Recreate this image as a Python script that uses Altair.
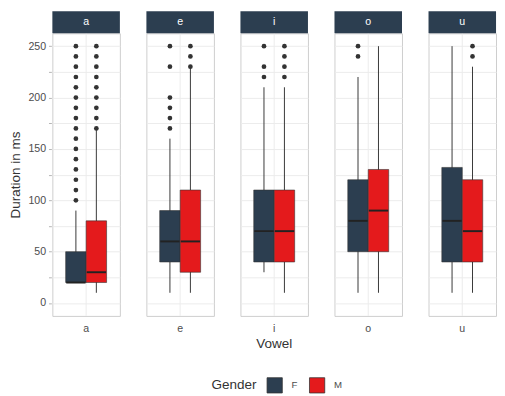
import altair as alt
import pandas as pd

vowels = ["a", "e", "i", "o", "u"]
genders = ["F", "M"]

# box stats per (vowel, gender), in order a-F, a-M, e-F, e-M, ...
lower = [20, 10, 10, 10, 30, 10, 10, 10, 10, 10]
q1 = [20, 20, 40, 30, 40, 40, 50, 50, 40, 40]
median = [20, 30, 60, 60, 70, 70, 80, 90, 80, 70]
q3 = [50, 80, 90, 110, 110, 110, 120, 130, 132, 120]
upper = [90, 170, 160, 230, 210, 210, 220, 250, 250, 230]
outliers = [
    [100, 110, 120, 130, 140, 150, 160, 170, 180, 190, 200, 210, 220, 230, 240, 250],
    [170, 180, 190, 200, 210, 220, 230, 240, 250],
    [170, 180, 190, 200, 230, 250],
    [230, 240, 250],
    [220, 230, 250],
    [220, 230, 240, 250],
    [240, 250],
    [],
    [],
    [240, 250],
]

rows = []
i = 0
for v in vowels:
    rows.append({"kind": "strip", "vowel": v})
    for g in genders:
        rows.append({"kind": "box", "vowel": v, "gender": g, "lower": lower[i],
                     "q1": q1[i], "median": median[i], "q3": q3[i], "upper": upper[i]})
        for o in outliers[i]:
            rows.append({"kind": "out", "vowel": v, "gender": g, "value": o})
        i += 1
df = pd.DataFrame(rows)

W = 70
H = 293
STRIP = 23
FONT = "Liberation Sans"

xenc = alt.X("gender:N", scale=alt.Scale(domain=genders, paddingInner=0, paddingOuter=0.65),
             axis=alt.Axis(labels=False, ticks=False, title=None, domain=False, grid=False))
yscale = alt.Scale(domain=[-12.5, 262.5], nice=False, zero=False)
yaxis = alt.Axis(values=list(range(0, 251, 25)),
                 labelExpr="datum.value % 50 == 0 ? datum.label : ''",
                 title="Duration in ms", grid=True, gridColor="#ebebeb", gridWidth=1,
                 tickColor="#b3b3b3", tickSize=3, domain=False, labelColor="#4d4d4d",
                 labelFontSize=11, titleFontSize=14, titleColor="#333333",
                 titleFontWeight="normal", labelPadding=3, titlePadding=6, titleFont=FONT,
                 labelFont=FONT)
color = alt.Color("gender:N", scale=alt.Scale(domain=genders, range=["#2C3E50", "#E41A1C"]),
                  legend=alt.Legend(title="Gender", orient="none", legendX=165, legendY=356,
                                    direction="horizontal",
                                    titleOrient="left", symbolType="square", symbolSize=250,
                                    symbolStrokeColor="#333333", symbolStrokeWidth=0.8,
                                    labelFontSize=10, titleFontSize=14, titleFontWeight="normal",
                                    titleColor="#333333", labelColor="#4d4d4d",
                                    labelFont=FONT, titleFont=FONT, labelOffset=9,
                                    columnPadding=9, titlePadding=10))

center = alt.Chart().transform_filter("datum.kind == 'strip'").mark_rule(
    color="#ebebeb", strokeWidth=1).encode(x=alt.value(W / 2), y=alt.value(0), y2=alt.value(H))

whisk = alt.Chart().transform_filter("datum.kind == 'box'").mark_rule(
    color="#333333", strokeWidth=1).encode(
    x=xenc, y=alt.Y("lower:Q", scale=yscale, axis=yaxis), y2="upper:Q")

box = alt.Chart().transform_filter("datum.kind == 'box'").mark_bar(
    stroke="#333333", strokeWidth=0.6, opacity=1).encode(
    x=xenc, y=alt.Y("q1:Q", scale=yscale, axis=yaxis), y2="q3:Q", color=color)

med = alt.Chart().transform_filter("datum.kind == 'box'").mark_tick(
    color="#222222", thickness=2, size=20, opacity=1).encode(
    x=xenc, y=alt.Y("median:Q", scale=yscale, axis=yaxis))

pts = alt.Chart().transform_filter("datum.kind == 'out'").mark_circle(
    color="#333333", size=24, opacity=1).encode(
    x=xenc, y=alt.Y("value:Q", scale=yscale, axis=yaxis))

strip = alt.Chart().transform_filter("datum.kind == 'strip'").mark_rect(
    color="#2C3E50").encode(x=alt.value(0), x2=alt.value(W), y=alt.value(-STRIP), y2=alt.value(0))

strip_text = alt.Chart().transform_filter("datum.kind == 'strip'").mark_text(
    color="white", fontSize=11, font=FONT, baseline="middle").encode(
    x=alt.value(W / 2), y=alt.value(-STRIP / 2), text="vowel:N")

layer = alt.layer(center, whisk, box, med, pts, strip, strip_text).properties(width=W, height=H)

chart = layer.facet(
    data=df,
    column=alt.Column("vowel:N", sort=vowels,
                      header=alt.Header(title="Vowel", titleOrient="bottom", labelOrient="bottom",
                                        labelFontSize=11, labelColor="#4d4d4d", labelFont=FONT,
                                        titleFont=FONT, titleFontSize=14, titleColor="#333333",
                                        titleFontWeight="normal", labelPadding=7, titlePadding=-7)),
    spacing=25.5,
).configure_view(stroke="#cccccc", strokeWidth=1).properties(
    padding={"left": 0, "top": -5, "right": 0, "bottom": 0})

chart.save("out.html", embed_options={"renderer": "svg", "actions": False})
